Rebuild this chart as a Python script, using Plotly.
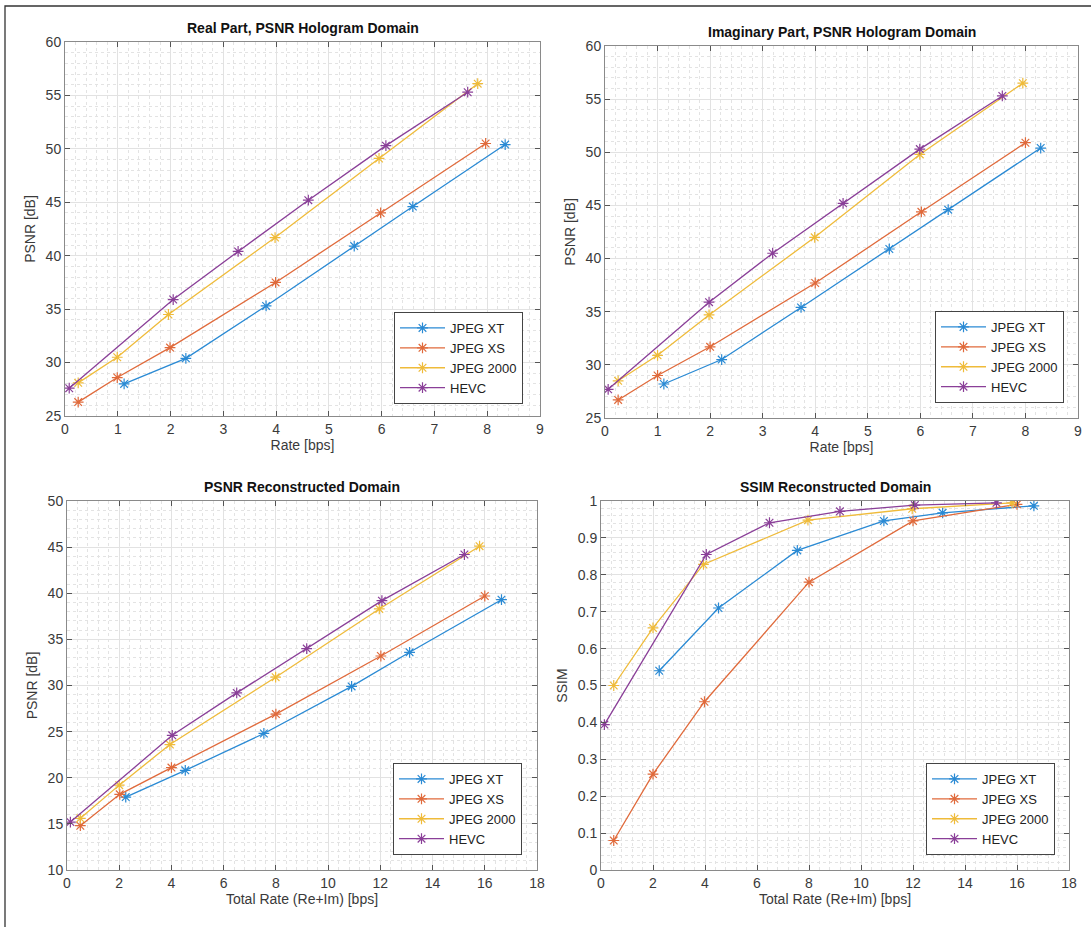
import plotly.graph_objects as go

series_names = ["JPEG XT", "JPEG XS", "JPEG 2000", "HEVC"]
series_colors = ["#2a8ad4", "#e06a3b", "#efbb3a", "#8a3f98"]

# Real part, PSNR hologram domain
real_xt_x = [1.12, 2.29, 3.81, 5.48, 6.59, 8.34]
real_xt_y = [28.0, 30.4, 35.3, 40.9, 44.6, 50.4]
real_xs_x = [0.25, 0.99, 1.99, 3.99, 5.98, 7.97]
real_xs_y = [26.3, 28.6, 31.4, 37.5, 44.0, 50.5]
real_j2k_x = [0.25, 0.99, 1.96, 3.98, 5.95, 7.82]
real_j2k_y = [28.1, 30.5, 34.5, 41.7, 49.1, 56.1]
real_hevc_x = [0.08, 2.05, 3.28, 4.61, 6.08, 7.63]
real_hevc_y = [27.6, 35.9, 40.4, 45.2, 50.3, 55.3]

# Imaginary part, PSNR hologram domain
imag_xt_x = [1.12, 2.22, 3.73, 5.41, 6.53, 8.29]
imag_xt_y = [28.2, 30.5, 35.4, 40.9, 44.6, 50.4]
imag_xs_x = [0.25, 1.0, 2.0, 4.0, 6.02, 8.0]
imag_xs_y = [26.7, 29.0, 31.7, 37.7, 44.4, 50.9]
imag_j2k_x = [0.25, 1.0, 1.98, 3.99, 5.99, 7.95]
imag_j2k_y = [28.5, 30.9, 34.7, 42.0, 49.8, 56.5]
imag_hevc_x = [0.06, 1.98, 3.19, 4.53, 5.99, 7.56]
imag_hevc_y = [27.7, 35.9, 40.5, 45.2, 50.3, 55.3]

# PSNR reconstructed domain
rec_xt_x = [2.25, 4.53, 7.54, 10.9, 13.12, 16.64]
rec_xt_y = [17.9, 20.8, 24.8, 29.9, 33.6, 39.3]
rec_xs_x = [0.51, 2.02, 4.0, 8.0, 12.02, 16.0]
rec_xs_y = [14.8, 18.2, 21.1, 26.9, 33.2, 39.7]
rec_j2k_x = [0.51, 2.0, 3.94, 7.99, 11.96, 15.8]
rec_j2k_y = [15.6, 19.2, 23.6, 30.9, 38.3, 45.1]
rec_hevc_x = [0.13, 4.03, 6.5, 9.18, 12.06, 15.22]
rec_hevc_y = [15.2, 24.6, 29.2, 34.0, 39.2, 44.2]

# SSIM reconstructed domain
ssim_xt_x = [2.24, 4.52, 7.55, 10.88, 13.14, 16.65]
ssim_xt_y = [0.54, 0.71, 0.866, 0.946, 0.968, 0.987]
ssim_xs_x = [0.49, 2.0, 3.98, 8.0, 12.0, 16.0]
ssim_xs_y = [0.08, 0.26, 0.456, 0.78, 0.946, 0.991]
ssim_j2k_x = [0.49, 2.0, 3.94, 7.96, 11.97, 15.81]
ssim_j2k_y = [0.50, 0.656, 0.828, 0.948, 0.979, 0.995]
ssim_hevc_x = [0.13, 4.05, 6.48, 9.19, 12.07, 15.21]
ssim_hevc_y = [0.394, 0.855, 0.941, 0.972, 0.989, 0.995]

panels = [
    ("Real Part, PSNR Hologram Domain", "Rate [bps]", "PSNR [dB]",
     [(real_xt_x, real_xt_y), (real_xs_x, real_xs_y), (real_j2k_x, real_j2k_y), (real_hevc_x, real_hevc_y)]),
    ("Imaginary Part, PSNR Hologram Domain", "Rate [bps]", "PSNR [dB]",
     [(imag_xt_x, imag_xt_y), (imag_xs_x, imag_xs_y), (imag_j2k_x, imag_j2k_y), (imag_hevc_x, imag_hevc_y)]),
    ("PSNR Reconstructed Domain", "Total Rate (Re+Im) [bps]", "PSNR [dB]",
     [(rec_xt_x, rec_xt_y), (rec_xs_x, rec_xs_y), (rec_j2k_x, rec_j2k_y), (rec_hevc_x, rec_hevc_y)]),
    ("SSIM Reconstructed Domain", "Total Rate (Re+Im) [bps]", "SSIM",
     [(ssim_xt_x, ssim_xt_y), (ssim_xs_x, ssim_xs_y), (ssim_j2k_x, ssim_j2k_y), (ssim_hevc_x, ssim_hevc_y)]),
]

W, H = 1091, 927
# plot-area pixel boxes (left, right, top, bottom)
boxes = [(65, 540, 42, 416), (605, 1078, 46, 418), (67, 537, 501, 870), (601, 1069, 501, 870)]
xranges = [(0, 9, 1, 0.2), (0, 9, 1, 0.2), (0, 18, 2, 0.4), (0, 18, 2, 0.4)]
yranges = [(25, 60, 5, 1), (25, 60, 5, 1), (10, 50, 5, 1), (0, 1, 0.1, 0.02)]
legend_pos = [(523, 404), (1064, 403), (522, 855), (1055, 855)]

FONT = "Liberation Sans, Arial, sans-serif"
TXT = "#3a3a3a"
fig = go.Figure()
layout = dict(width=W, height=H, autosize=False,
              margin=dict(l=0, r=0, t=0, b=0, pad=0, autoexpand=False),
              paper_bgcolor="white", plot_bgcolor="white", showlegend=True,
              font=dict(family=FONT, size=14, color=TXT))
annotations = []

for i, (title, xt, yt, data) in enumerate(panels):
    n = "" if i == 0 else str(i + 1)
    l, r, t, b = boxes[i]
    x0, x1, xd, xm = xranges[i]
    y0, y1, yd, ym = yranges[i]
    leg = "legend" if i == 0 else "legend" + str(i + 1)
    for k, (xs, ys) in enumerate(data):
        fig.add_trace(go.Scatter(
            x=xs, y=ys, mode="lines+markers", name=series_names[k],
            line=dict(color=series_colors[k], width=1.3),
            marker=dict(symbol="asterisk-open", size=9,
                        line=dict(color=series_colors[k], width=1.2)),
            xaxis="x" + n, yaxis="y" + n, legend=leg))
    axis_common = dict(showline=True, linecolor="#8a8a8a", linewidth=1, mirror="ticks",
                       ticks="inside", ticklen=5, tickcolor="#555555", automargin=False,
                       showgrid=True, gridcolor="#e2e2e2", gridwidth=1, zeroline=False,
                       tickfont=dict(family=FONT, size=14, color=TXT))
    layout["xaxis" + n] = dict(axis_common,
                               domain=[l / W, r / W], anchor="y" + n,
                               range=[x0, x1], dtick=xd, tick0=0,
                               minor=dict(dtick=xm, showgrid=True, gridcolor="#e3e3e3", griddash="dot"),
                               title=dict(text=xt, standoff=2, font=dict(family=FONT, size=14, color=TXT)))
    layout["yaxis" + n] = dict(axis_common,
                               domain=[1 - b / H, 1 - t / H], anchor="x" + n,
                               range=[y0, y1], dtick=yd, tick0=0,
                               minor=dict(dtick=ym, showgrid=True, gridcolor="#e3e3e3", griddash="dot"),
                               title=dict(text=yt, standoff=6, font=dict(family=FONT, size=14, color=TXT)))
    lx, ly = legend_pos[i]
    layout[leg] = dict(x=lx / W, y=1 - ly / H, xanchor="right", yanchor="bottom",
                       bgcolor="white", bordercolor="#444444", borderwidth=1,
                       itemwidth=45, tracegroupgap=0,
                       font=dict(family=FONT, size=13, color="#222222"))
    annotations.append(dict(text="<b>" + title + "</b>", x=(l + r) / 2 / W, y=1 - (t - 4) / H,
                            xref="paper", yref="paper", xanchor="center", yanchor="bottom",
                            showarrow=False, font=dict(family=FONT, size=14, color="#111111")))

layout["annotations"] = annotations
layout["shapes"] = [
    dict(type="rect", xref="paper", yref="paper", x0=5 / W, x1=1.02, y0=-0.02, y1=1 - 6 / H,
         line=dict(color="#333333", width=1.3), fillcolor="rgba(0,0,0,0)", layer="above"),
]
fig.update_layout(**layout)
fig.write_html("out.html", config={"displayModeBar": False},
               post_script="document.body.style.margin='0';document.body.style.overflow='hidden';")
